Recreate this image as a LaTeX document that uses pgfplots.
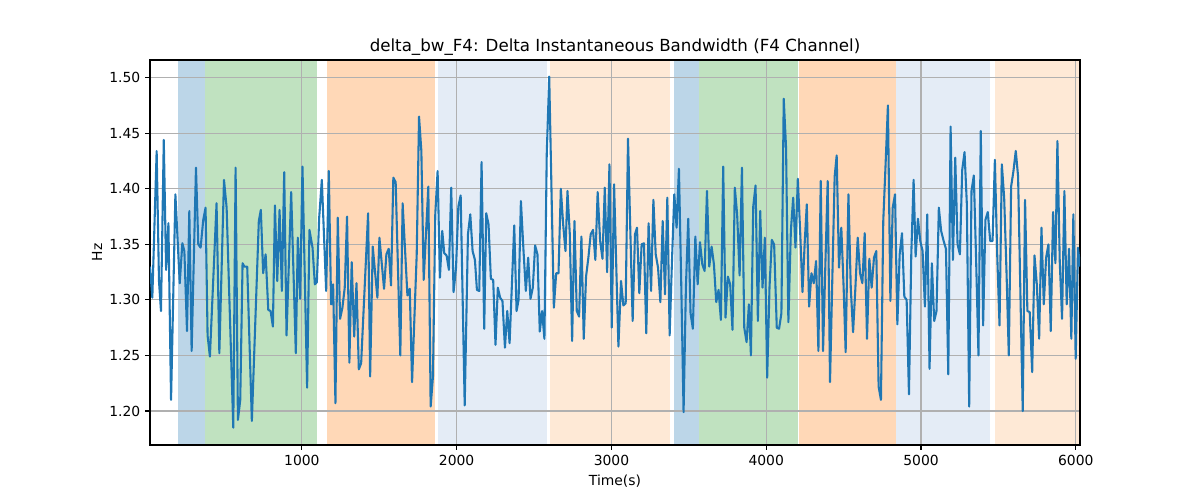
\documentclass[border=0pt]{standalone}
\usepackage{fontspec}
\setmainfont{DejaVu Sans}
\usepackage{pgfplots}
\pgfplotsset{compat=1.18}
\definecolor{tabblue}{RGB}{31,119,180}
\definecolor{spanblue}{RGB}{188,214,232}
\definecolor{spangreen}{RGB}{192,226,192}
\definecolor{spanorange}{RGB}{255,216,183}
\definecolor{spanlb}{RGB}{228,236,246}
\definecolor{spanbq}{RGB}{254,233,214}
\definecolor{gridgray}{RGB}{176,176,176}
\begin{document}
\begin{tikzpicture}
\begin{axis}[
  name=ax, set layers,
  scale only axis, width=669.6pt, height=277.2pt,
  xmin=19, xmax=6027, ymin=1.1694, ymax=1.5159,
  xtick={1000,2000,3000,4000,5000,6000},
  ytick={1.20,1.25,1.30,1.35,1.40,1.45,1.50},
  /pgf/number format/assume math mode=true,
  yticklabel style={/pgf/number format/.cd, fixed, fixed zerofill, precision=2},
  xticklabel style={/pgf/number format/.cd, set thousands separator={}},
  ticklabel style={font=\fontsize{10}{12}\selectfont},
  grid=major, grid style={gridgray, line width=0.8pt},
  tick align=outside, major tick length=3.5pt,
  tick style={black, line width=0.8pt},
  axis line style={line width=0.8pt},
  xtick pos=lower, ytick pos=left,
  title={delta\_bw\_F4: Delta Instantaneous Bandwidth (F4 Channel)},
  title style={font=\fontsize{12}{14.4}\selectfont, at={(axis description cs:0.5,1)}, anchor=south, yshift=-6pt},
  xlabel={Time(s)}, ylabel={Hz},
  xlabel style={font=\fontsize{10}{12}\selectfont, at={(axis description cs:0.5,-0.0935)}, anchor=center},
  ylabel style={font=\fontsize{10}{12}\selectfont, at={(axis description cs:-0.057,0.5)}, anchor=center},
]
\addplot[fill=spanblue, draw=none, on layer=axis background, forget plot] coordinates {(198,1.1694) (198,1.5159) (377,1.5159) (377,1.1694)} -- cycle;
\addplot[fill=spangreen, draw=none, on layer=axis background, forget plot] coordinates {(377,1.1694) (377,1.5159) (1095,1.5159) (1095,1.1694)} -- cycle;
\addplot[fill=spanorange, draw=none, on layer=axis background, forget plot] coordinates {(1164,1.1694) (1164,1.5159) (1860,1.5159) (1860,1.1694)} -- cycle;
\addplot[fill=spanlb, draw=none, on layer=axis background, forget plot] coordinates {(1880,1.1694) (1880,1.5159) (2585,1.5159) (2585,1.1694)} -- cycle;
\addplot[fill=spanbq, draw=none, on layer=axis background, forget plot] coordinates {(2604,1.1694) (2604,1.5159) (3376,1.5159) (3376,1.1694)} -- cycle;
\addplot[fill=spanblue, draw=none, on layer=axis background, forget plot] coordinates {(3406,1.1694) (3406,1.5159) (3568,1.5159) (3568,1.1694)} -- cycle;
\addplot[fill=spangreen, draw=none, on layer=axis background, forget plot] coordinates {(3568,1.1694) (3568,1.5159) (4208,1.5159) (4208,1.1694)} -- cycle;
\addplot[fill=spanorange, draw=none, on layer=axis background, forget plot] coordinates {(4212,1.1694) (4212,1.5159) (4835,1.5159) (4835,1.1694)} -- cycle;
\addplot[fill=spanlb, draw=none, on layer=axis background, forget plot] coordinates {(4840,1.1694) (4840,1.5159) (5444,1.5159) (5444,1.1694)} -- cycle;
\addplot[fill=spanbq, draw=none, on layer=axis background, forget plot] coordinates {(5476,1.1694) (5476,1.5159) (6027,1.5159) (6027,1.1694)} -- cycle;
\addplot[tabblue, line width=1.5pt, line join=round, mark=none] coordinates {
(19,1.330) (34,1.302) (62,1.434) (77,1.317) (90,1.290) (108,1.444) (123,1.327) (138,1.369)
(155,1.210) (183,1.395) (211,1.315) (228,1.351) (241,1.344) (258,1.272) (273,1.380) (288,1.254)
(316,1.419) (331,1.350) (346,1.347) (363,1.372) (378,1.383) (391,1.268) (406,1.249) (449,1.387)
(467,1.252) (497,1.408) (514,1.383) (557,1.185) (572,1.419) (587,1.192) (602,1.210) (617,1.333)
(628,1.330) (647,1.330) (677,1.191) (722,1.371) (735,1.381) (750,1.324) (766,1.341) (783,1.291)
(798,1.290) (813,1.276) (826,1.385) (841,1.317) (856,1.381) (871,1.308) (886,1.415) (901,1.268)
(931,1.397) (961,1.252) (974,1.356) (989,1.301) (1004,1.420) (1034,1.221) (1049,1.363)
(1069,1.347) (1084,1.314) (1097,1.316) (1112,1.374) (1129,1.408) (1157,1.308) (1174,1.416)
(1189,1.296) (1202,1.314) (1217,1.207) (1232,1.374) (1247,1.283) (1262,1.293) (1277,1.311)
(1292,1.375) (1307,1.2435) (1322,1.334) (1338,1.267) (1353,1.315) (1368,1.2375) (1383,1.243)
(1428,1.378) (1441,1.231) (1458,1.348) (1488,1.302) (1501,1.356) (1531,1.310) (1546,1.341)
(1561,1.346) (1576,1.313) (1591,1.410) (1606,1.406) (1636,1.250) (1651,1.387) (1682,1.304)
(1697,1.310) (1712,1.226) (1742,1.341) (1757,1.465) (1772,1.434) (1787,1.318) (1817,1.402)
(1832,1.204) (1847,1.231) (1862,1.377) (1877,1.416) (1892,1.320) (1907,1.362) (1920,1.342)
(1935,1.340) (1950,1.327) (1965,1.401) (1980,1.307) (1996,1.329) (2011,1.384) (2026,1.394)
(2052,1.205) (2073,1.359) (2088,1.377) (2103,1.344) (2118,1.336) (2131,1.309) (2146,1.308)
(2161,1.424) (2178,1.274) (2191,1.378) (2206,1.368) (2221,1.319) (2236,1.318) (2251,1.2595)
(2266,1.311) (2281,1.302) (2296,1.299) (2312,1.257) (2327,1.290) (2342,1.261) (2372,1.367)
(2387,1.290) (2400,1.300) (2415,1.389) (2432,1.344) (2447,1.308) (2462,1.338) (2477,1.301)
(2492,1.311) (2507,1.349) (2522,1.341) (2537,1.2715) (2552,1.290) (2567,1.265) (2582,1.431)
(2598,1.501) (2628,1.293) (2643,1.324) (2658,1.324) (2673,1.400) (2688,1.368) (2703,1.344)
(2716,1.398) (2731,1.359) (2746,1.263) (2761,1.371) (2776,1.290) (2791,1.285) (2806,1.357)
(2821,1.265) (2836,1.321) (2851,1.338) (2866,1.359) (2881,1.363) (2896,1.336) (2911,1.397)
(2927,1.353) (2942,1.337) (2957,1.401) (2972,1.325) (2987,1.422) (3002,1.275) (3017,1.404)
(3045,1.258) (3062,1.317) (3077,1.295) (3092,1.297) (3107,1.445) (3122,1.362) (3137,1.281)
(3152,1.359) (3165,1.365) (3180,1.306) (3195,1.350) (3210,1.351) (3225,1.270) (3240,1.369)
(3256,1.308) (3271,1.390) (3286,1.341) (3301,1.329) (3316,1.298) (3331,1.371) (3346,1.305)
(3361,1.392) (3376,1.268) (3391,1.335) (3406,1.395) (3421,1.365) (3436,1.418) (3451,1.314)
(3466,1.199) (3481,1.311) (3496,1.373) (3511,1.288) (3526,1.274) (3542,1.357) (3557,1.314)
(3572,1.352) (3587,1.332) (3602,1.326) (3617,1.398) (3632,1.330) (3647,1.348) (3662,1.332)
(3677,1.298) (3692,1.309) (3707,1.282) (3722,1.420) (3737,1.284) (3752,1.321) (3767,1.314)
(3782,1.273) (3797,1.401) (3812,1.377) (3828,1.322) (3843,1.419) (3858,1.275) (3873,1.262)
(3888,1.296) (3901,1.250) (3916,1.384) (3931,1.403) (3946,1.281) (3961,1.380) (3976,1.311)
(3991,1.356) (4006,1.230) (4021,1.311) (4036,1.354) (4051,1.350) (4068,1.275) (4083,1.274)
(4098,1.288) (4113,1.481) (4128,1.437) (4143,1.280) (4159,1.362) (4174,1.392) (4189,1.347)
(4204,1.409) (4219,1.362) (4234,1.307) (4249,1.353) (4262,1.386) (4277,1.294) (4292,1.324)
(4307,1.315) (4322,1.335) (4337,1.254) (4352,1.407) (4367,1.254) (4382,1.332) (4397,1.407)
(4412,1.226) (4427,1.320) (4442,1.411) (4455,1.430) (4470,1.329) (4485,1.365) (4500,1.311)
(4513,1.253) (4531,1.395) (4546,1.311) (4561,1.271) (4576,1.311) (4591,1.356) (4606,1.324)
(4621,1.315) (4636,1.360) (4651,1.265) (4666,1.337) (4681,1.311) (4696,1.338) (4711,1.344)
(4726,1.222) (4741,1.210) (4756,1.371) (4771,1.422) (4786,1.475) (4802,1.299) (4817,1.383)
(4832,1.395) (4847,1.278) (4862,1.341) (4877,1.360) (4892,1.303) (4907,1.300) (4922,1.215)
(4937,1.341) (4952,1.408) (4965,1.339) (4980,1.373) (4995,1.353) (5010,1.344) (5025,1.294)
(5040,1.377) (5055,1.238) (5070,1.333) (5085,1.281) (5100,1.290) (5115,1.383) (5130,1.362)
(5146,1.353) (5161,1.346) (5176,1.233) (5191,1.456) (5206,1.336) (5221,1.428) (5236,1.350)
(5251,1.341) (5266,1.417) (5281,1.433) (5296,1.386) (5311,1.204) (5326,1.398) (5341,1.412)
(5356,1.335) (5371,1.250) (5386,1.452) (5401,1.277) (5416,1.372) (5431,1.379) (5447,1.353)
(5462,1.353) (5477,1.426) (5492,1.341) (5507,1.277) (5522,1.422) (5537,1.392) (5552,1.326)
(5567,1.250) (5582,1.402) (5597,1.416) (5612,1.434) (5627,1.411) (5657,1.200) (5672,1.390)
(5687,1.290) (5702,1.289) (5718,1.235) (5733,1.340) (5748,1.314) (5763,1.265) (5778,1.365)
(5793,1.296) (5808,1.338) (5823,1.350) (5838,1.272) (5853,1.379) (5868,1.333) (5881,1.443)
(5896,1.335) (5911,1.283) (5926,1.398) (5941,1.296) (5956,1.346) (5971,1.265) (5984,1.377)
(5999,1.247) (6014,1.347) (6027,1.330)
};
\end{axis}
\pgfresetboundingbox
\path[use as bounding box] ([shift={(-108pt,-39.6pt)}]ax.south west) rectangle ([shift={(86.4pt,43.2pt)}]ax.north east);
\end{tikzpicture}
\end{document}
